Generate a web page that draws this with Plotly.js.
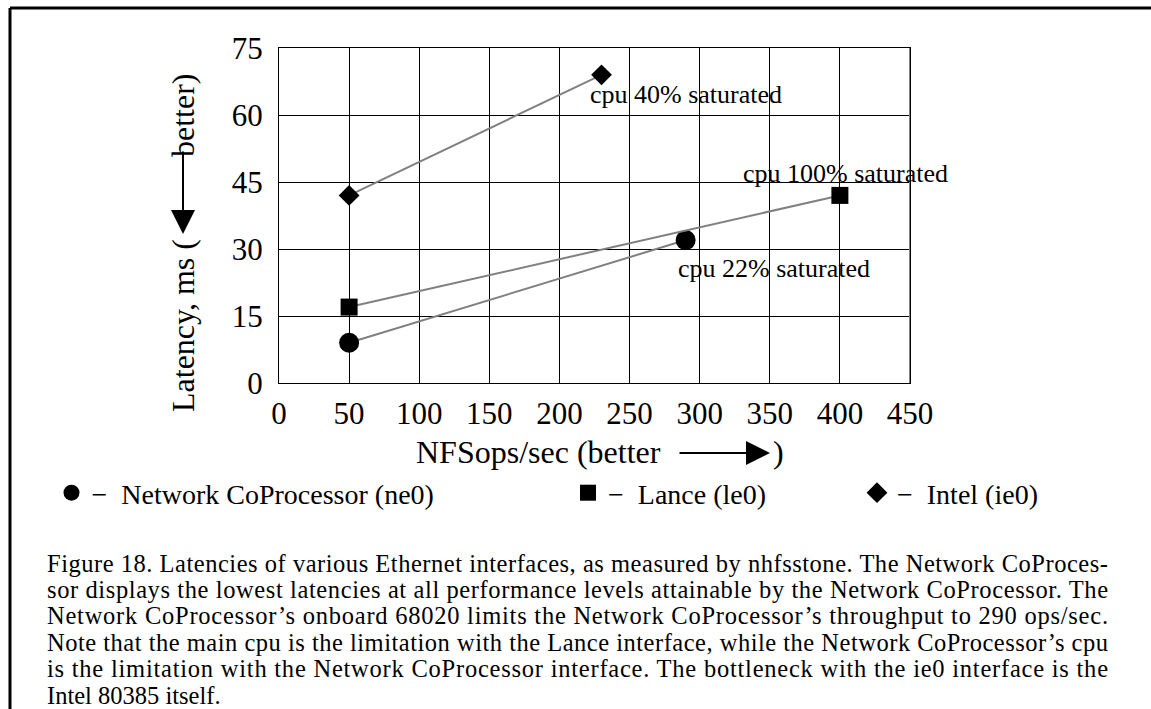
<!DOCTYPE html>
<html>
<head>
<meta charset="utf-8">
<script src="https://cdn.plot.ly/plotly-3.0.1.min.js"></script>
<style>html,body{margin:0;padding:0;background:#fff;}#chart{width:1151px;height:709px;}</style>
</head>
<body>
<div id="chart"></div>
<script>
// ---- data ----
const seriesNames = ['Network CoProcessor (ne0)', 'Lance (le0)', 'Intel (ie0)'];
const seriesSymbols = ['circle', 'square', 'diamond'];
const ne0X = [50, 290];
const ne0Y = [9, 32];
const le0X = [50, 400];
const le0Y = [17, 42];
const ie0X = [50, 230];
const ie0Y = [42, 69];
const noteTexts = ['cpu 40% saturated', 'cpu 100% saturated', 'cpu 22% saturated'];
const xTitle = 'NFSops/sec (better';
const yTitleLow = 'Latency, ms (';
const yTitleHigh = 'better)';
const captionLines = [
  'Figure 18. Latencies of various Ethernet interfaces, as measured by nhfsstone. The Network CoProces-',
  'sor displays the lowest latencies at all performance levels attainable by the Network CoProcessor. The',
  'Network CoProcessor\u2019s onboard 68020 limits the Network CoProcessor\u2019s throughput to 290 ops/sec.',
  'Note that the main cpu is the limitation with the Lance interface, while the Network CoProcessor\u2019s cpu',
  'is the limitation with the Network CoProcessor interface. The bottleneck with the ie0 interface is the',
  'Intel 80385 itself.'
];

// ---- geometry helpers (pixel -> paper) ----
const W = 1151, H = 709, L = 279, R = 241, T = 48, B = 326;
const PW = W - L - R, PH = H - T - B;
const px = v => (v - L) / PW;
const py = v => (H - B - v) / PH;
const FONT = '"Liberation Serif", "Times New Roman", serif';

const lineStyle = {color: '#808080', width: 2};
const mk = (x, y, sym, size) => ({
  x: x, y: y, mode: 'lines+markers', type: 'scatter', showlegend: false,
  line: lineStyle, marker: {symbol: sym, size: size, color: 'black'}, hoverinfo: 'skip'
});
const traces = [
  mk(ne0X, ne0Y, 'circle', 20),
  mk(le0X, le0Y, 'square', 17),
  mk(ie0X, ie0Y, 'diamond', 16)
];
const legendIds = ['legend', 'legend2', 'legend3'];
seriesNames.forEach((n, i) => {
  traces.push({x: [null], y: [null], type: 'scatter', mode: 'markers', name: '\u2212\u00a0\u00a0' + n,
    legend: legendIds[i], marker: {symbol: seriesSymbols[i], size: 16, color: 'black'}});
});

const legendX = [51.5, 568, 857];
const legendCommon = (x) => ({x: px(x), y: py(493), xanchor: 'left', yanchor: 'middle',
  orientation: 'h', bgcolor: 'rgba(0,0,0,0)', borderwidth: 0, font: {family: FONT, size: 28, color: 'black'}});

const annotations = [];
// point notes
annotations.push({x: ie0X[1], y: ie0Y[1], xref: 'x', yref: 'y', text: noteTexts[0], showarrow: false,
  xanchor: 'left', yanchor: 'middle', xshift: -14, yshift: -20, font: {family: FONT, size: 26, color: 'black'}});
annotations.push({x: le0X[1], y: le0Y[1], xref: 'x', yref: 'y', text: noteTexts[1], showarrow: false,
  xanchor: 'center', yanchor: 'middle', xshift: 6, yshift: 22, font: {family: FONT, size: 26, color: 'black'}});
annotations.push({x: ne0X[1], y: ne0Y[1], xref: 'x', yref: 'y', text: noteTexts[2], showarrow: false,
  xanchor: 'left', yanchor: 'middle', xshift: -10, yshift: -28, font: {family: FONT, size: 26, color: 'black'}});
// x title
annotations.push({x: px(414), y: py(452), xref: 'paper', yref: 'paper', text: xTitle, showarrow: false,
  xanchor: 'left', yanchor: 'middle', font: {family: FONT, size: 32, color: 'black'}});
annotations.push({x: px(770), y: py(453), xref: 'paper', yref: 'paper', text: '', showarrow: true,
  ax: -92, ay: 0, arrowhead: 2, arrowsize: 2.4, arrowwidth: 2, arrowcolor: 'black', standoff: 0});
annotations.push({x: px(771), y: py(452), xref: 'paper', yref: 'paper', text: ')', showarrow: false,
  xanchor: 'left', yanchor: 'middle', font: {family: FONT, size: 32, color: 'black'}});
// y title
annotations.push({x: px(183), y: py(326), xref: 'paper', yref: 'paper', text: yTitleLow, showarrow: false,
  textangle: -90, xanchor: 'center', yanchor: 'middle', font: {family: FONT, size: 32, color: 'black'}});
annotations.push({x: px(183), y: py(115), xref: 'paper', yref: 'paper', text: yTitleHigh, showarrow: false,
  textangle: -90, xanchor: 'center', yanchor: 'middle', font: {family: FONT, size: 32, color: 'black'}});
annotations.push({x: px(183), y: py(234), xref: 'paper', yref: 'paper', text: '', showarrow: true,
  ax: 0, ay: -84, arrowhead: 2, arrowsize: 2.4, arrowwidth: 2, arrowcolor: 'black', standoff: 0});
// caption
const capStart = annotations.length;
const capY = [563, 589.4, 615.8, 642.2, 668.6, 695];
captionLines.forEach((t, i) => {
  annotations.push({x: px(46), y: py(capY[i]), xref: 'paper', yref: 'paper', text: t, showarrow: false,
    xanchor: 'left', yanchor: 'middle', align: 'left', borderpad: 0, font: {family: FONT, size: 24.5, color: 'black'}});
});

const shapes = [
  {type: 'line', xref: 'paper', yref: 'paper', x0: px(10), x1: px(1151), y0: py(8), y1: py(8), line: {color: 'black', width: 3}},
  {type: 'line', xref: 'paper', yref: 'paper', x0: px(10), x1: px(10), y0: py(8), y1: py(709), line: {color: 'black', width: 3}},
  {type: 'line', xref: 'x', yref: 'paper', x0: 450, x1: 450, y0: 0, y1: 1, line: {color: '#808080', width: 2}, layer: 'above'}
];

const axisCommon = {showgrid: true, gridcolor: 'black', gridwidth: 1, showline: true, linecolor: 'black', linewidth: 1,
  mirror: true, zeroline: false, ticks: '', tickfont: {family: FONT, size: 31, color: 'black'}, fixedrange: true};

const layout = {
  width: W, height: H, margin: {l: L, r: R, t: T, b: B, pad: 0},
  paper_bgcolor: 'white', plot_bgcolor: 'white', showlegend: true,
  xaxis: Object.assign({}, axisCommon, {range: [0, 450], dtick: 50, tick0: 0, ticklabelstandoff: 3}),
  yaxis: Object.assign({}, axisCommon, {range: [0, 75], dtick: 15, tick0: 0, ticklabelstandoff: 9}),
  legend: legendCommon(legendX[0]), legend2: legendCommon(legendX[1]), legend3: legendCommon(legendX[2]),
  annotations: annotations, shapes: shapes
};

Plotly.newPlot('chart', traces, layout, {staticPlot: true, displayModeBar: false}).then(() => {
  // justify caption lines (all but the last) to the column width
  const groups = document.querySelectorAll('.annotation');
  groups.forEach(g => {
    const idx = +g.getAttribute('data-index');
    if (idx >= capStart && idx < capStart + captionLines.length - 1) {
      const t = g.querySelector('text');
      if (t) { t.setAttribute('textLength', 1061); t.setAttribute('lengthAdjust', 'spacing'); }
    }
  });
});
</script>
</body>
</html>
